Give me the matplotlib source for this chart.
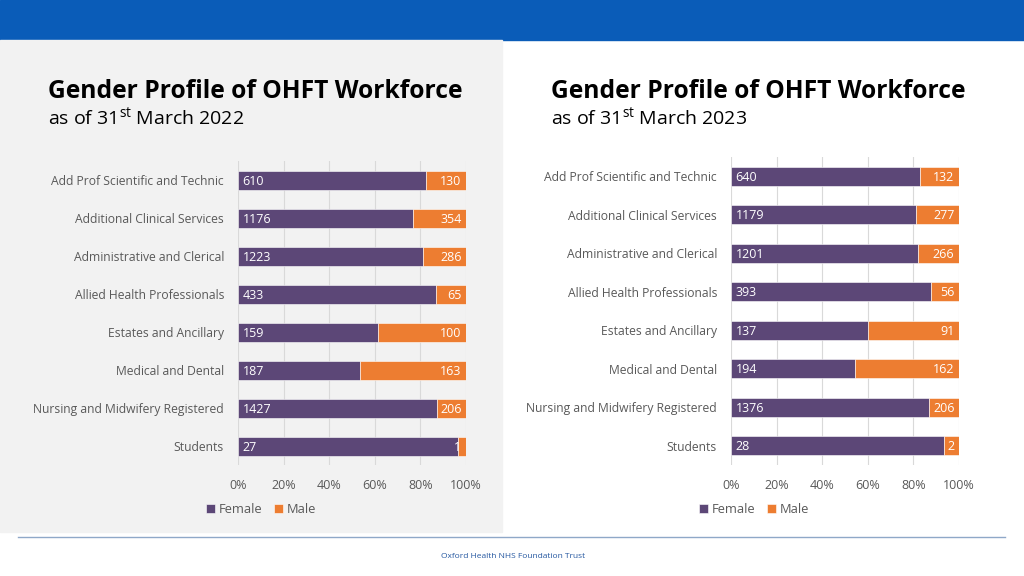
import matplotlib
matplotlib.use("Agg")
import matplotlib.pyplot as plt
from matplotlib.patches import Rectangle
from matplotlib.lines import Line2D
import numpy as np

plt.rcParams['font.family'] = ['Open Sans', 'DejaVu Sans']
plt.rcParams['mathtext.fontset'] = 'custom'
plt.rcParams['mathtext.rm'] = 'Open Sans'
plt.rcParams['mathtext.default'] = 'regular'

categories = ['Add Prof Scientific and Technic', 'Additional Clinical Services',
              'Administrative and Clerical', 'Allied Health Professionals',
              'Estates and Ancillary', 'Medical and Dental',
              'Nursing and Midwifery Registered', 'Students']
female_2022 = [610, 1176, 1223, 433, 159, 187, 1427, 27]
male_2022 = [130, 354, 286, 65, 100, 163, 206, 1]
female_2023 = [640, 1179, 1201, 393, 137, 194, 1376, 28]
male_2023 = [132, 277, 266, 56, 91, 162, 206, 2]
ticks = [0, 20, 40, 60, 80, 100]

PURPLE = '#5C4777'
ORANGE = '#ED7D31'
GREY_TXT = '#595959'

fig = plt.figure(figsize=(10.24, 5.76), dpi=100)
W, H = 1024, 576


def fx(px):
    return px / W


def fy(py):
    return 1 - py / H


# header bar, grey panel, footer
fig.patches.append(Rectangle((0, fy(40)), 1, 40 / H, transform=fig.transFigure,
                             color='#0A5CB8', zorder=-10))
fig.patches.append(Rectangle((0, fy(532)), fx(502), (532 - 40) / H, transform=fig.transFigure,
                             color='#F2F2F2', zorder=-10))
fig.lines.append(Line2D([fx(18), fx(1005)], [fy(537), fy(537)], transform=fig.transFigure,
                        color='#8FA8C8', lw=1, zorder=-10))
fig.text(fx(513), fy(556), 'Oxford Health NHS Foundation Trust', ha='center', va='center',
         fontsize=6, color='#2457A0')


def draw_panel(rect, female, male, year, title_x):
    ax = fig.add_axes(rect)
    ax.set_facecolor('none')
    female = np.array(female, dtype=float)
    male = np.array(male, dtype=float)
    total = female + male
    fp = female / total * 100
    mp = male / total * 100
    y = np.arange(len(categories))
    ax.barh(y, fp, height=0.5, color=PURPLE, edgecolor='white', linewidth=0.4,
            label='Female', zorder=3)
    ax.barh(y, mp, left=fp, height=0.5, color=ORANGE, edgecolor='white', linewidth=0.4,
            label='Male', zorder=3)
    for i in range(len(categories)):
        ax.text(2, y[i] + 0.03, str(int(female[i])), color='white', fontsize=9,
                va='center', ha='left', zorder=4)
        ax.text(98, y[i] + 0.03, str(int(male[i])), color='white', fontsize=9,
                va='center', ha='right', zorder=4)
    ax.set_xlim(0, 100)
    ax.set_ylim(len(categories) - 0.5, -0.5)
    ax.set_xticks(ticks)
    ax.set_xticklabels([f'{t}%' for t in ticks])
    ax.set_yticks(y)
    ax.set_yticklabels(categories)
    ax.tick_params(axis='both', length=0, colors=GREY_TXT, labelsize=9)
    ax.tick_params(axis='y', pad=10, labelsize=8.7)
    ax.tick_params(axis='x', pad=10)
    ax.grid(axis='x', color='#D9D9D9', lw=0.8, zorder=0)
    for s in ax.spines.values():
        s.set_visible(False)
    leg = ax.legend(loc='center', bbox_to_anchor=(0.1, -0.145), ncol=2, frameon=False,
                    fontsize=9.3, handlelength=0.7, handleheight=0.7, handletextpad=0.3,
                    columnspacing=0.9)
    for t in leg.get_texts():
        t.set_color(GREY_TXT)
    fig.text(fx(title_x), fy(92), 'Gender Profile of OHFT Workforce', fontsize=17.7,
             fontweight='bold', va='center', ha='left', color='black')
    fig.text(fx(title_x), fy(117), 'as of 31$^{st}$ March ' + year, fontsize=14,
             va='center', ha='left', color='black')
    return ax


draw_panel([fx(238), fy(465), fx(466) - fx(238), fy(161) - fy(465)],
           female_2022, male_2022, '2022', 48)
draw_panel([fx(731), fy(465), fx(959) - fx(731), fy(157) - fy(465)],
           female_2023, male_2023, '2023', 551)

fig.savefig('out.png', dpi=100)
